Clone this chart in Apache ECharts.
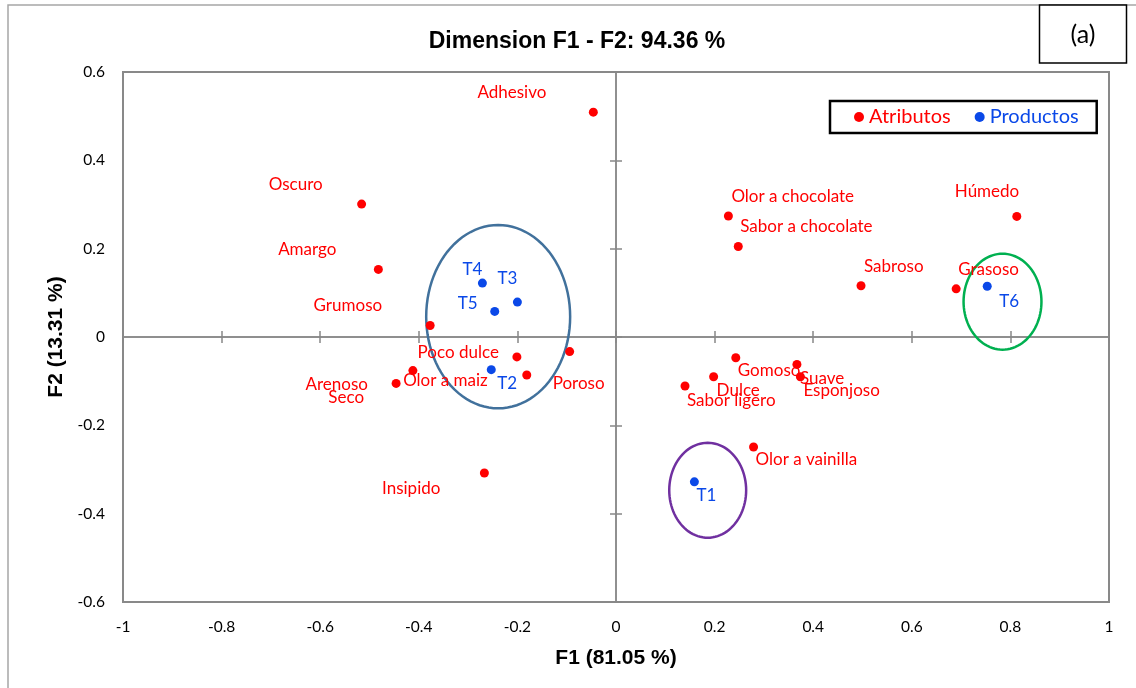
<!DOCTYPE html>
<html><head><meta charset="utf-8">
<script src="https://cdn.jsdelivr.net/npm/echarts@6/dist/echarts.min.js"></script>
<style>html,body{margin:0;padding:0;background:#fff}#c{width:1136px;height:688px}</style>
</head><body><div id="c"></div>
<script>
// ---- data ----
const chartTitle = 'Dimension F1 - F2: 94.36 %';
const panelTag = '(a)';
const xAxisTitle = 'F1 (81.05 %)';
const yAxisTitle = 'F2 (13.31 %)';
const xTickLabels = [-1, -0.8, -0.6, -0.4, -0.2, 0, 0.2, 0.4, 0.6, 0.8, 1];
const yTickLabels = [-0.6, -0.4, -0.2, 0, 0.2, 0.4, 0.6];

const attrNames = ['Adhesivo','Oscuro','Amargo','Grumoso','Poco dulce','Poroso','Olor a maiz','Arenoso','Seco','Insipido',
  'Olor a chocolate','Sabor a chocolate','Húmedo','Sabroso','Grasoso','Gomoso','Suave','Esponjoso','Dulce','Sabor ligero','Olor a vainilla'];
const attrF1 = [-0.046,-0.516,-0.482,-0.377,-0.201,-0.094,-0.181,-0.412,-0.446,-0.267,
  0.228,0.248,0.813,0.497,0.690,0.243,0.367,0.374,0.198,0.140,0.279];
const attrF2 = [0.509,0.301,0.153,0.026,-0.045,-0.033,-0.086,-0.076,-0.105,-0.308,
  0.274,0.205,0.273,0.116,0.109,-0.047,-0.062,-0.090,-0.090,-0.111,-0.249];

const prodNames = ['T1','T2','T3','T4','T5','T6'];
const prodF1 = [0.159,-0.253,-0.200,-0.271,-0.246,0.753];
const prodF2 = [-0.328,-0.074,0.079,0.122,0.058,0.115];

// groupings drawn as ellipses: centre and half-axes in data units
const groupCX = [-0.239, 0.784, 0.186];
const groupCY = [0.046, 0.080, -0.347];
const groupRX = [0.146, 0.079, 0.078];
const groupRY = [0.2075, 0.1086, 0.1075];

// ---- styles ----
const groupColors = ['#41719C', '#00B050', '#7030A0'];
const RED = '#FF0000';
const BLUE = '#0A48E8';
const FONT = 'Lato';
const AXIS_GRAY = '#888888';
// label placement: [align, dx, dy] in pixels relative to the point
const labelPlacement = {
  'Adhesivo':['right',-47,-20], 'Oscuro':['right',-39,-20], 'Amargo':['right',-42,-20], 'Grumoso':['right',-48,-20],
  'Poco dulce':['right',-18,-4], 'Poroso':['left',-17,32], 'Olor a maiz':['right',-39,6], 'Arenoso':['right',-45,14],
  'Seco':['right',-32,14], 'Insipido':['right',-44,15],
  'Olor a chocolate':['left',3,-19], 'Sabor a chocolate':['left',2,-20], 'Húmedo':['left',-62,-25],
  'Sabroso':['left',3,-19], 'Grasoso':['left',2,-19], 'Gomoso':['left',2,13], 'Suave':['left',3,14],
  'Esponjoso':['left',3,14], 'Dulce':['left',3,14], 'Sabor ligero':['left',2,14], 'Olor a vainilla':['left',2,13],
  'T1':['left',2,14], 'T2':['left',6,14], 'T3':['right',0,-24], 'T4':['right',0,-14], 'T5':['right',-17,-8], 'T6':['left',12,15]
};

function mkPoints(names, xs, ys, color) {
  return names.map(function (n, i) {
    const p = labelPlacement[n];
    return {
      name: n, value: [xs[i], ys[i]],
      label: { show: true, position: 'inside', formatter: '{b}', align: p[0], verticalAlign: 'middle',
        offset: [p[1], p[2]], color: color, fontFamily: FONT, fontSize: 17 }
    };
  });
}

const ellipseData = groupCX.map(function (cx, i) { return [cx, groupCY[i], groupRX[i], groupRY[i]]; });

const xMin = xTickLabels[0], xMax = xTickLabels[xTickLabels.length - 1];
const yMin = yTickLabels[0], yMax = yTickLabels[yTickLabels.length - 1];
const xInt = +(xTickLabels[1] - xTickLabels[0]).toFixed(6);
const yInt = +(yTickLabels[1] - yTickLabels[0]).toFixed(6);

const zeroLine = { show: true, onZero: true, onZeroAxisIndex: 0, lineStyle: { color: AXIS_GRAY, width: 1.5 } };
function xBase() { return { type: 'value', min: xMin, max: xMax, interval: xInt, splitLine: { show: false } }; }
function yBase() { return { type: 'value', min: yMin, max: yMax, interval: yInt, splitLine: { show: false } }; }
const tickFmt = function (v) { return String(+v.toFixed(2)); };

const chart = echarts.init(document.getElementById('c'));
chart.setOption({
  animation: false,
  backgroundColor: '#fff',
  title: {
    text: chartTitle, left: 577, top: 30, padding: 0, textAlign: 'center',
    textStyle: { fontFamily: 'Liberation Sans', fontWeight: 'bold', fontSize: 23, color: '#000' }
  },
  legend: {
    data: [{ name: 'Atributos', textStyle: { color: RED } }, { name: 'Productos', textStyle: { color: BLUE } }],
    left: 830, top: 101, icon: 'circle', itemWidth: 10, itemHeight: 10, itemGap: 24,
    padding: [6, 18, 6, 24], borderColor: '#000', borderWidth: 2.5, borderRadius: 0,
    textStyle: { fontFamily: FONT, fontSize: 20 }, selectedMode: false
  },
  grid: { left: 123, top: 72, width: 986, height: 530, show: true, borderColor: '#898989', borderWidth: 2,
    containLabel: false, outerBoundsMode: 'none' },
  xAxis: [
    Object.assign(xBase(), { position: 'bottom', axisLine: { show: false, onZero: false }, axisTick: { show: false },
      axisLabel: { margin: 17, color: '#000', fontFamily: FONT, fontSize: 15.5, formatter: tickFmt },
      name: xAxisTitle, nameLocation: 'middle', nameGap: 46,
      nameTextStyle: { fontFamily: 'Liberation Sans', fontWeight: 'bold', fontSize: 21, color: '#000' } }),
    Object.assign(xBase(), { position: 'bottom', axisLine: zeroLine,
      axisTick: { show: true, inside: true, length: 6, lineStyle: { color: AXIS_GRAY, width: 1.5 } }, axisLabel: { show: false } }),
    Object.assign(xBase(), { position: 'bottom', axisLine: zeroLine,
      axisTick: { show: true, inside: false, length: 6, lineStyle: { color: AXIS_GRAY, width: 1.5 } }, axisLabel: { show: false } })
  ],
  yAxis: [
    Object.assign(yBase(), { position: 'left', axisLine: { show: false, onZero: false }, axisTick: { show: false },
      axisLabel: { margin: 18, color: '#000', fontFamily: FONT, fontSize: 15.5, formatter: tickFmt },
      name: yAxisTitle, nameLocation: 'middle', nameGap: 54,
      nameTextStyle: { fontFamily: 'Liberation Sans', fontWeight: 'bold', fontSize: 21, color: '#000' } }),
    Object.assign(yBase(), { position: 'left', axisLine: zeroLine,
      axisTick: { show: true, inside: true, length: 6, lineStyle: { color: AXIS_GRAY, width: 1.5 } }, axisLabel: { show: false } }),
    Object.assign(yBase(), { position: 'left', axisLine: zeroLine,
      axisTick: { show: true, inside: false, length: 6, lineStyle: { color: AXIS_GRAY, width: 1.5 } }, axisLabel: { show: false } })
  ],
  graphic: [
    { type: 'rect', silent: true, z: -10, shape: { x: 8, y: 5, width: 1200, height: 720 },
      style: { fill: 'none', stroke: '#A6A6A6', lineWidth: 1.5 } },
    { type: 'rect', silent: true, z: 10, shape: { x: 1039.5, y: 5, width: 87, height: 58 },
      style: { fill: '#fff', stroke: '#000', lineWidth: 1.5 } },
    { type: 'text', silent: true, z: 11, x: 1083, y: 35,
      style: { text: panelTag, fill: '#000', font: '25px Lato', align: 'center', verticalAlign: 'middle' } }
  ],
  series: [
    {
      type: 'custom', name: 'grupos', silent: true, z: 1, xAxisIndex: 0, yAxisIndex: 0,
      data: ellipseData, encode: { x: 0, y: 1 },
      renderItem: function (params, api) {
        const c = api.coord([api.value(0), api.value(1)]);
        const s = api.size([api.value(2), api.value(3)]);
        const pts = [];
        for (let k = 0; k < 96; k++) {
          const t = k / 96 * Math.PI * 2;
          pts.push([c[0] + s[0] * Math.cos(t), c[1] + s[1] * Math.sin(t)]);
        }
        return { type: 'polygon', shape: { points: pts },
          style: { fill: 'none', stroke: groupColors[params.dataIndex], lineWidth: 2.5 } };
      }
    },
    { type: 'scatter', name: 'Atributos', z: 3, symbolSize: 9, itemStyle: { color: RED, opacity: 1 },
      data: mkPoints(attrNames, attrF1, attrF2, RED), emphasis: { disabled: true } },
    { type: 'scatter', name: 'Productos', z: 4, symbolSize: 9, itemStyle: { color: BLUE, opacity: 1 },
      data: mkPoints(prodNames, prodF1, prodF2, BLUE), emphasis: { disabled: true } }
  ]
});
</script></body></html>
